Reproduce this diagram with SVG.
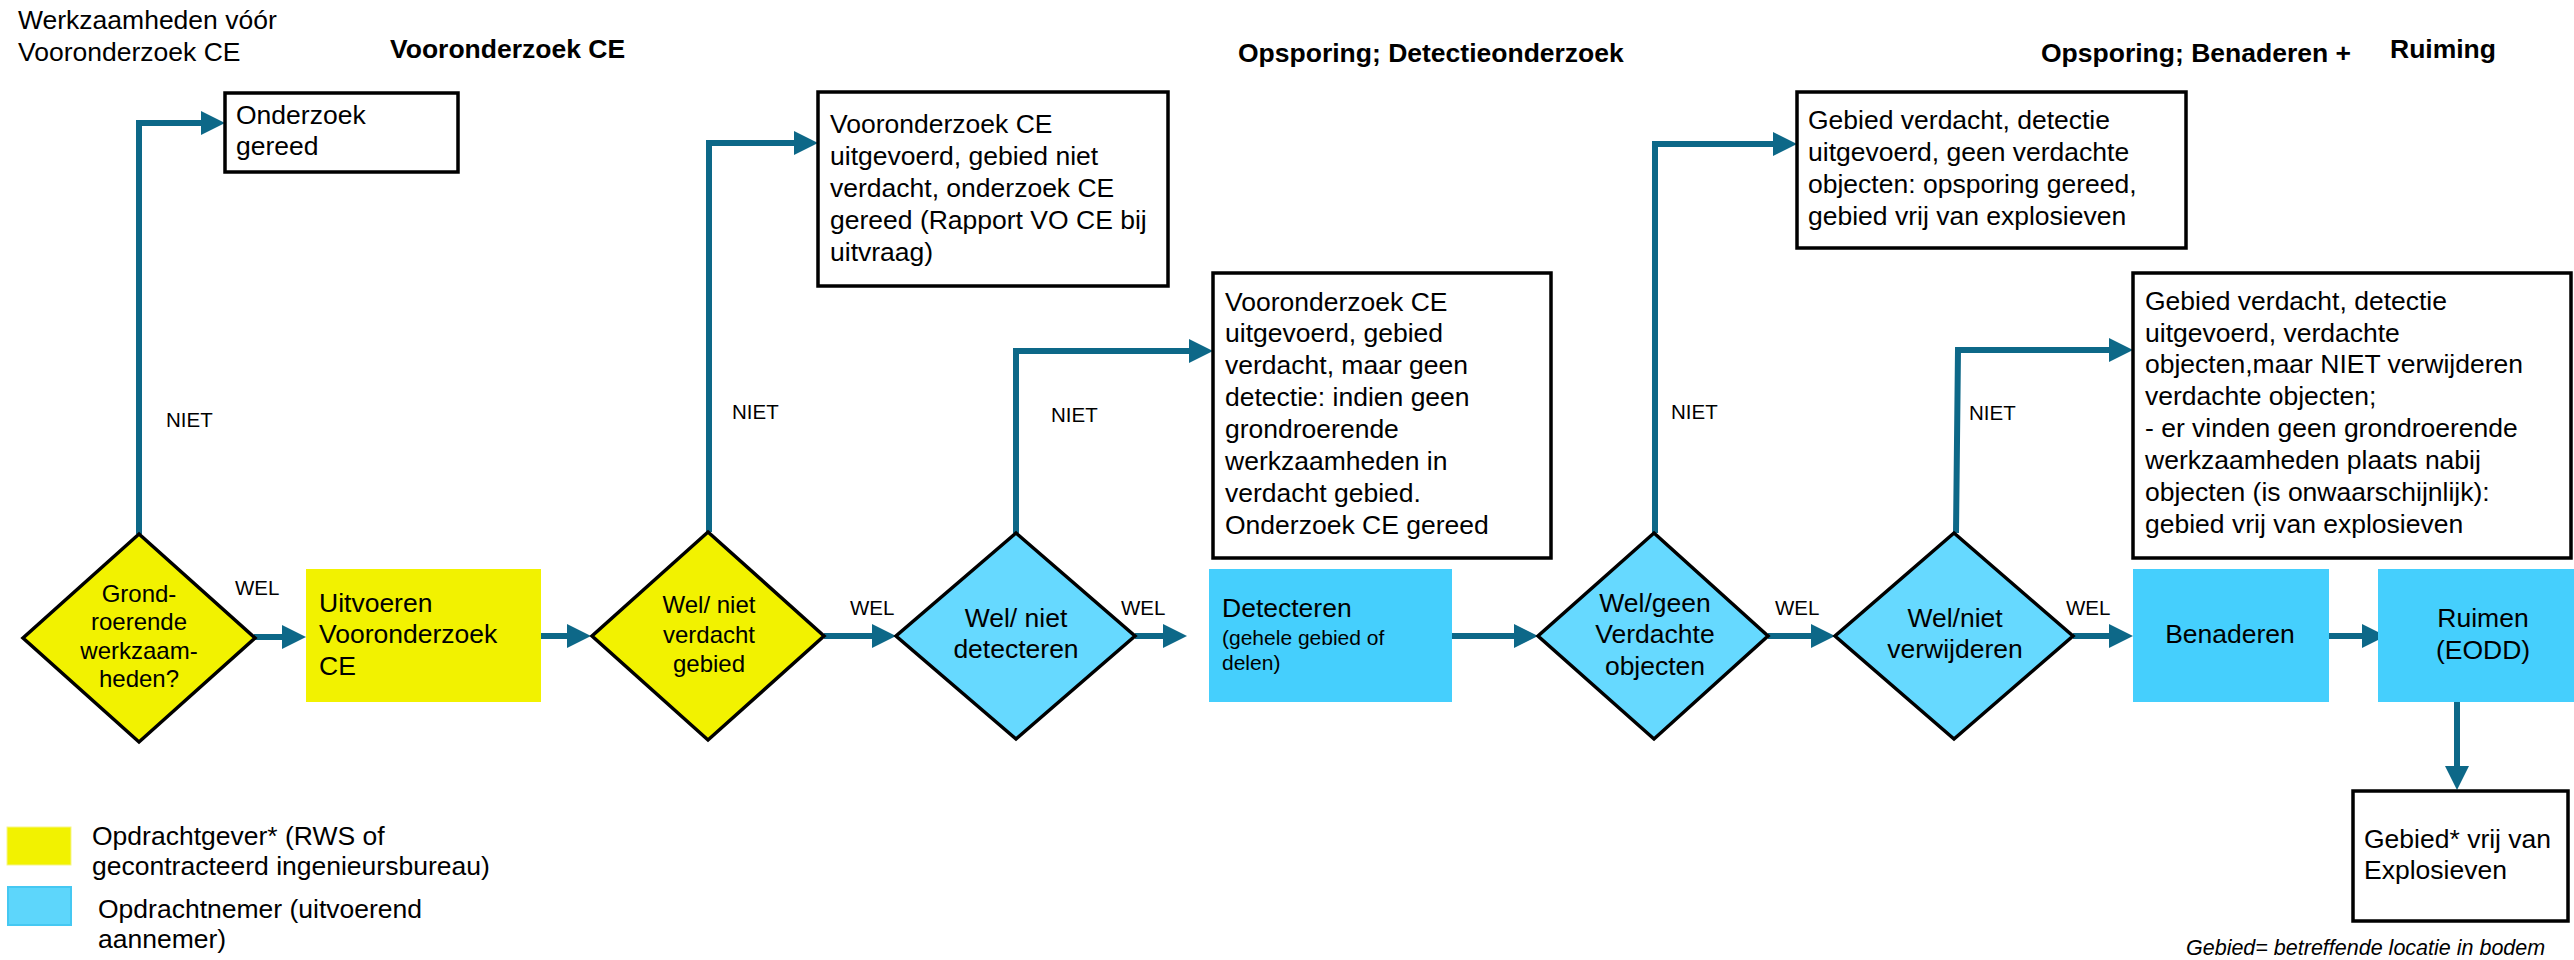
<svg xmlns="http://www.w3.org/2000/svg" width="2574" height="960" viewBox="0 0 2574 960">
<style>
text{font-family:"Liberation Sans",Arial,sans-serif;fill:#000}
.t{font-size:26.5px}
.ts{font-size:24px}
.tx{font-size:21px}
.lbl{font-size:20.5px}
.h{font-size:26.5px;font-weight:bold}
.c{text-anchor:middle}
.note{stroke:#000;stroke-width:3.5;fill:#fff}
.dy{fill:#f2f200;stroke:#000;stroke-width:3.5;stroke-linejoin:miter}
.db{fill:#66d9ff;stroke:#000;stroke-width:3.5;stroke-linejoin:miter}
.by{fill:#f2f200}
.bb{fill:#45cffd}
.con{fill:none;stroke:#0d6888;stroke-width:6;marker-end:url(#ah)}
</style>
<defs>
<marker id="ah" markerUnits="userSpaceOnUse" markerWidth="26" markerHeight="28" viewBox="0 -13 26 26" refX="0" refY="0" orient="auto">
<path d="M0,-12 L24,0 L0,12 Z" fill="#0d6888"/>
</marker>
</defs>

<g id="titles">
<text class="t" x="18" y="29">Werkzaamheden vóór</text>
<text class="t" x="18" y="61">Vooronderzoek CE</text>
<text class="h" x="390" y="58">Vooronderzoek CE</text>
<text class="h" x="1238" y="62">Opsporing; Detectieonderzoek</text>
<text class="h" x="2041" y="62">Opsporing; Benaderen +</text>
<text class="h" x="2390" y="58">Ruiming</text>
</g>

<g id="connectors">
<path class="con" d="M254,637 H282"/>
<path class="con" d="M540,636 H567" stroke-linecap="round"/>
<path class="con" d="M824,636 H872"/>
<path class="con" d="M1135,636 H1163"/>
<path class="con" d="M1450,636 H1514" stroke-linecap="round"/>
<path class="con" d="M1768,636 H1811"/>
<path class="con" d="M2073,636 H2109"/>
<path class="con" d="M2327,636 H2362" stroke-linecap="round"/>
<path class="con" d="M2457,700 V766"/>
<path class="con" d="M139,534 V123 H201"/>
<path class="con" d="M709,532 V143 H794"/>
<path class="con" d="M1016,533 V351 H1189"/>
<path class="con" d="M1655,533 V144 H1773"/>
<path class="con" d="M1956,533 L1958,350 H2109"/>
<text class="lbl" x="235" y="595">WEL</text>
<text class="lbl" x="850" y="615">WEL</text>
<text class="lbl" x="1121" y="615">WEL</text>
<text class="lbl" x="1775" y="615">WEL</text>
<text class="lbl" x="2066" y="615">WEL</text>
<text class="lbl" x="166" y="427">NIET</text>
<text class="lbl" x="732" y="419">NIET</text>
<text class="lbl" x="1051" y="422">NIET</text>
<text class="lbl" x="1671" y="419">NIET</text>
<text class="lbl" x="1969" y="420">NIET</text>
</g>

<g id="n-grondroerend">
<polygon class="dy" points="139,534 255,638 139,742 23,638"/>
<text class="ts c" x="139" y="602">Grond-</text>
<text class="ts c" x="139" y="630">roerende</text>
<text class="ts c" x="139" y="659">werkzaam-</text>
<text class="ts c" x="139" y="687">heden?</text>
</g>

<g id="n-onderzoek-gereed">
<rect class="note" x="225" y="93" width="233" height="79"/>
<text class="t" x="236" y="124">Onderzoek</text>
<text class="t" x="236" y="155">gereed</text>
</g>

<g id="n-uitvoeren">
<rect class="by" x="306" y="569" width="235" height="133"/>
<text class="t" x="319" y="612">Uitvoeren</text>
<text class="t" x="319" y="643">Vooronderzoek</text>
<text class="t" x="319" y="675">CE</text>
</g>

<g id="n-verdacht-gebied">
<polygon class="dy" points="708,532 824,636 708,740 592,636"/>
<text class="ts c" x="709" y="613">Wel/ niet</text>
<text class="ts c" x="709" y="643">verdacht</text>
<text class="ts c" x="709" y="672">gebied</text>
</g>

<g id="n-niet-verdacht">
<rect class="note" x="818" y="92" width="350" height="194"/>
<text class="t" x="830" y="133">Vooronderzoek CE</text>
<text class="t" x="830" y="165">uitgevoerd, gebied niet</text>
<text class="t" x="830" y="197">verdacht, onderzoek CE</text>
<text class="t" x="830" y="229">gereed (Rapport VO CE bij</text>
<text class="t" x="830" y="261">uitvraag)</text>
</g>

<g id="n-detecteren-keuze">
<polygon class="db" points="1016,533 1135,636 1016,739 896,636"/>
<text class="t c" x="1016" y="627">Wel/ niet</text>
<text class="t c" x="1016" y="658">detecteren</text>
</g>

<g id="n-geen-detectie">
<rect class="note" x="1213" y="273" width="338" height="285"/>
<text class="t" x="1225" y="311">Vooronderzoek CE</text>
<text class="t" x="1225" y="342">uitgevoerd, gebied</text>
<text class="t" x="1225" y="374">verdacht, maar geen</text>
<text class="t" x="1225" y="406">detectie: indien geen</text>
<text class="t" x="1225" y="438">grondroerende</text>
<text class="t" x="1225" y="470">werkzaamheden in</text>
<text class="t" x="1225" y="502">verdacht gebied.</text>
<text class="t" x="1225" y="534">Onderzoek CE gereed</text>
</g>

<g id="n-detecteren">
<rect class="bb" x="1209" y="569" width="243" height="133"/>
<text class="t" x="1222" y="617">Detecteren</text>
<text class="tx" x="1222" y="645">(gehele gebied of</text>
<text class="tx" x="1222" y="670">delen)</text>
</g>

<g id="n-verdachte-objecten">
<polygon class="db" points="1654,533 1768,636 1654,739 1538,636"/>
<text class="t c" x="1655" y="612">Wel/geen</text>
<text class="t c" x="1655" y="643">Verdachte</text>
<text class="t c" x="1655" y="675">objecten</text>
</g>

<g id="n-geen-objecten">
<rect class="note" x="1797" y="92" width="389" height="156"/>
<text class="t" x="1808" y="129">Gebied verdacht, detectie</text>
<text class="t" x="1808" y="161">uitgevoerd, geen verdachte</text>
<text class="t" x="1808" y="193">objecten: opsporing gereed,</text>
<text class="t" x="1808" y="225">gebied vrij van explosieven</text>
</g>

<g id="n-verwijderen-keuze">
<polygon class="db" points="1954,533 2073,636 1954,739 1835,636"/>
<text class="t c" x="1955" y="627">Wel/niet</text>
<text class="t c" x="1955" y="658">verwijderen</text>
</g>

<g id="n-niet-verwijderen">
<rect class="note" x="2133" y="273" width="438" height="285"/>
<text class="t" x="2145" y="310">Gebied verdacht, detectie</text>
<text class="t" x="2145" y="342">uitgevoerd, verdachte</text>
<text class="t" x="2145" y="373">objecten,maar NIET verwijderen</text>
<text class="t" x="2145" y="405">verdachte objecten;</text>
<text class="t" x="2145" y="437">- er vinden geen grondroerende</text>
<text class="t" x="2145" y="469">werkzaamheden plaats nabij</text>
<text class="t" x="2145" y="501">objecten (is onwaarschijnlijk):</text>
<text class="t" x="2145" y="533">gebied vrij van explosieven</text>
</g>

<g id="n-benaderen">
<rect class="bb" x="2133" y="569" width="196" height="133"/>
<text class="t c" x="2230" y="643">Benaderen</text>
</g>

<g id="n-ruimen">
<rect class="bb" x="2378" y="569" width="210" height="133"/>
<text class="t c" x="2483" y="627">Ruimen</text>
<text class="t c" x="2483" y="659">(EODD)</text>
</g>

<g id="n-vrij">
<rect class="note" x="2353" y="791" width="215" height="130"/>
<text class="t" x="2364" y="848">Gebied* vrij van</text>
<text class="t" x="2364" y="879">Explosieven</text>
</g>

<g id="legend">
<rect x="7" y="827" width="64" height="38" fill="#f2f200" stroke="#f5f58a" stroke-width="1"/>
<text class="t" x="92" y="845">Opdrachtgever* (RWS of</text>
<text class="t" x="92" y="875">gecontracteerd ingenieursbureau)</text>
<rect x="8" y="887" width="63" height="38" fill="#5dd6fb" stroke="#45c8f2" stroke-width="2"/>
<text class="t" x="98" y="918">Opdrachtnemer (uitvoerend</text>
<text class="t" x="98" y="948">aannemer)</text>
<text x="2186" y="955" font-size="21.5px" font-style="italic">Gebied= betreffende locatie in bodem</text>
</g>
</svg>
